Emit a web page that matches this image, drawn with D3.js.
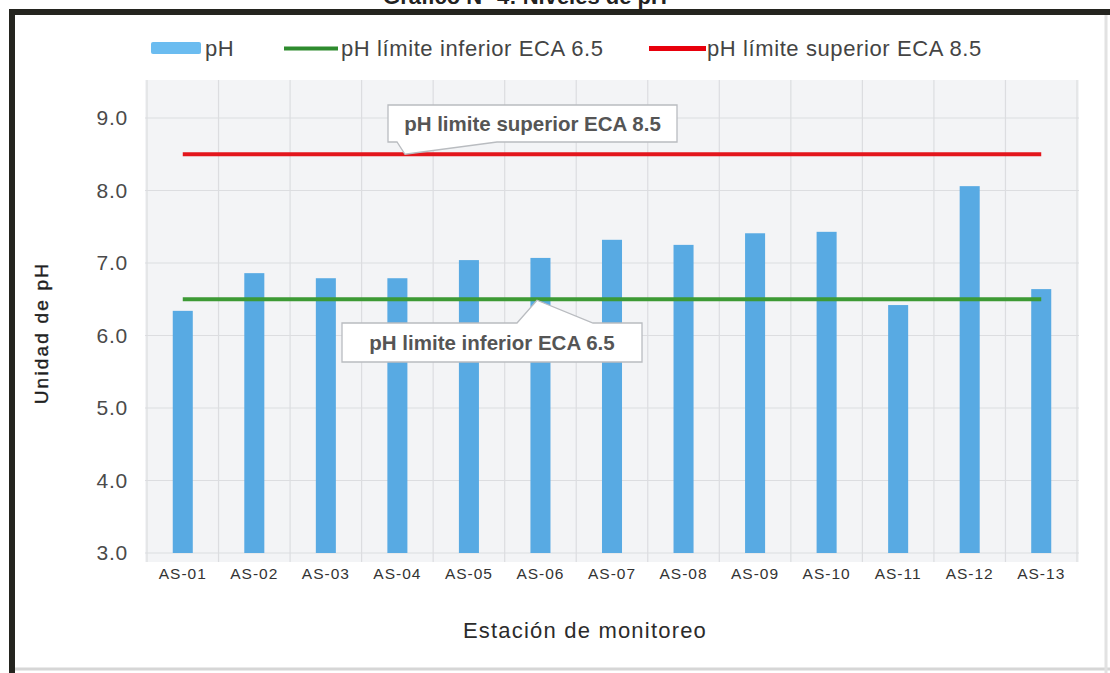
<!DOCTYPE html>
<html>
<head>
  <meta charset="utf-8">
  <title>Niveles de pH</title>
  <style>
    body { margin: 0; background: #fff; }
    svg { display: block; font-family: "Liberation Sans", Arial, sans-serif; }
  </style>
</head>
<body>
  <script src="https://d3js.org/d3.v7.min.js"></script>
  <script type="text/javascript">

var stations = ["AS-01", "AS-02", "AS-03", "AS-04", "AS-05", "AS-06", "AS-07",
                "AS-08", "AS-09", "AS-10", "AS-11", "AS-12", "AS-13"];
var phValues = [6.34, 6.86, 6.79, 6.79, 7.04, 7.07, 7.32, 7.25, 7.41, 7.43, 6.42, 8.06, 6.64];
var limitLow  = 6.5;
var limitHigh = 8.5;
var yTicks = [3, 4, 5, 6, 7, 8, 9];
var legendLabels = ["pH", "pH límite inferior ECA 6.5", "pH límite superior ECA 8.5"];

var W = 1110, H = 673;
var plot = {left: 147, right: 1077, top: 80, bottom: 562};

var svg = d3.select("body")
    .append("svg")
    .attr("width", W)
    .attr("height", H);

// frame of the original image (title is cut at the top edge, as in the scan)
svg.append("text")
    .attr("x", 525).attr("y", 4)
    .attr("text-anchor", "middle")
    .style("font-size", "22px").style("font-weight", "bold").style("fill", "#222")
    .text("Gráfico N° 4: Niveles de pH");
svg.append("path")
    .attr("d", "M12," + H + " V12 H" + W)
    .attr("fill", "none").attr("stroke", "#24241f").attr("stroke-width", 6);
svg.append("line")
    .attr("x1", 15).attr("x2", W).attr("y1", H - 4).attr("y2", H - 4)
    .attr("stroke", "#d6d6d6").attr("stroke-width", 3);
svg.append("line")
    .attr("x1", W - 4).attr("x2", W - 4).attr("y1", 15).attr("y2", H)
    .attr("stroke", "#e2e2e2").attr("stroke-width", 3);

var xScale = d3.scaleBand()
    .domain(stations)
    .range([plot.left, plot.right])
    .paddingInner(0.72)
    .paddingOuter(0.36);

var yScale = d3.scaleLinear()
    .domain([3, 9])
    .range([553, 118]);

// plot area
svg.append("rect")
    .attr("x", plot.left - 2).attr("y", plot.top)
    .attr("width", plot.right - plot.left + 4).attr("height", plot.bottom - plot.top)
    .attr("fill", "#f3f4f6");

var grid = svg.append("g").attr("stroke", "#dcdde0").attr("stroke-width", 1.2);
grid.selectAll(".hg")
    .data(yTicks)
    .enter().append("line")
    .attr("x1", plot.left - 2).attr("x2", plot.right + 2)
    .attr("y1", function(d){ return yScale(d); })
    .attr("y2", function(d){ return yScale(d); });
var edges = stations.map(function(s){ return xScale(s) - xScale.step() * xScale.paddingInner() / 2; })
    .concat([plot.right]);
grid.selectAll(".vg")
    .data(edges)
    .enter().append("line")
    .attr("x1", function(d){ return d; }).attr("x2", function(d){ return d; })
    .attr("y1", plot.top).attr("y2", plot.bottom);

// bars
svg.append("g").selectAll("rect")
    .data(phValues)
    .enter().append("rect")
    .attr("x", function(d, i){ return xScale(stations[i]); })
    .attr("y", function(d){ return yScale(d); })
    .attr("width", xScale.bandwidth())
    .attr("height", function(d){ return yScale(3) - yScale(d); })
    .attr("fill", "#58aae3");

// limit lines
var x0 = xScale(stations[0]) + xScale.bandwidth() / 2;
var x1 = xScale(stations[stations.length - 1]) + xScale.bandwidth() / 2;
svg.append("line")
    .attr("x1", x0).attr("x2", x1)
    .attr("y1", yScale(limitLow)).attr("y2", yScale(limitLow))
    .attr("stroke", "#3d9a35").attr("stroke-width", 4);
svg.append("line")
    .attr("x1", x0).attr("x2", x1)
    .attr("y1", yScale(limitHigh)).attr("y2", yScale(limitHigh))
    .attr("stroke", "#e3161c").attr("stroke-width", 4);

// y axis (labels only)
var yAxis = svg.append("g")
    .attr("transform", "translate(128,0)")
    .call(d3.axisLeft(yScale).tickValues(yTicks).tickFormat(d3.format(".1f")).tickSize(0).tickPadding(0));
yAxis.select(".domain").remove();
yAxis.selectAll("text")
    .style("font-size", "21px").style("fill", "#4a4a4a")
    .style("font-family", "'Liberation Sans', Arial, sans-serif")
    .style("letter-spacing", "0.8px");

// x axis (labels only)
var xAxis = svg.append("g")
    .attr("transform", "translate(0,565)")
    .call(d3.axisBottom(xScale).tickSize(0).tickPadding(0));
xAxis.select(".domain").remove();
xAxis.selectAll("text")
    .attr("dy", "0.9em")
    .style("font-size", "15.5px").style("fill", "#333")
    .style("font-family", "'Liberation Sans', Arial, sans-serif")
    .style("letter-spacing", "1px");

// axis titles
svg.append("text")
    .attr("x", 585).attr("y", 638)
    .attr("text-anchor", "middle")
    .style("font-size", "22px").style("fill", "#2b2b2b").style("letter-spacing", "1.2px")
    .text("Estación de monitoreo");
svg.append("text")
    .attr("transform", "translate(48,333) rotate(-90)")
    .attr("text-anchor", "middle")
    .style("font-size", "19px").style("fill", "#1f1f1f").style("letter-spacing", "2.2px")
    .style("stroke", "#1f1f1f").style("stroke-width", 0.4)
    .text("Unidad de pH");

// legend
var lg = svg.append("g");
lg.append("rect")
    .attr("x", 151).attr("y", 42).attr("width", 50).attr("height", 12).attr("rx", 2)
    .attr("fill", "#6bbcf0");
lg.append("text").attr("x", 205).attr("y", 56).text(legendLabels[0]);
lg.append("line")
    .attr("x1", 284).attr("x2", 338).attr("y1", 48.5).attr("y2", 48.5)
    .attr("stroke", "#2e8b2e").attr("stroke-width", 4);
lg.append("text").attr("x", 341).attr("y", 56).text(legendLabels[1]);
lg.append("line")
    .attr("x1", 649).attr("x2", 706).attr("y1", 48.5).attr("y2", 48.5)
    .attr("stroke", "#e8000c").attr("stroke-width", 5);
lg.append("text").attr("x", 707).attr("y", 56).text(legendLabels[2]);
lg.selectAll("text")
    .style("font-size", "22px").style("fill", "#444").style("letter-spacing", "0.6px");

// callouts
function callout(box, wedge, apex, label) {
    var p = d3.path();
    if (wedge.side === "bottom") {
        p.moveTo(box.x, box.y);
        p.lineTo(box.x + box.w, box.y);
        p.lineTo(box.x + box.w, box.y + box.h);
        p.lineTo(wedge.b, box.y + box.h);
        p.lineTo(apex[0], apex[1]);
        p.lineTo(wedge.a, box.y + box.h);
        p.lineTo(box.x, box.y + box.h);
    } else {
        p.moveTo(box.x, box.y);
        p.lineTo(wedge.a, box.y);
        p.lineTo(apex[0], apex[1]);
        p.lineTo(wedge.b, box.y);
        p.lineTo(box.x + box.w, box.y);
        p.lineTo(box.x + box.w, box.y + box.h);
        p.lineTo(box.x, box.y + box.h);
    }
    p.closePath();
    svg.append("path")
        .attr("d", p.toString())
        .attr("fill", "#fff").attr("stroke", "#b9bcc0").attr("stroke-width", 1.3);
    svg.append("text")
        .attr("x", box.x + box.w / 2).attr("y", box.y + box.h / 2 + 7.5)
        .attr("text-anchor", "middle")
        .style("font-size", "20.5px").style("font-weight", "bold").style("fill", "#555")
        .text(label);
}

callout({x: 388, y: 105, w: 289, h: 37}, {side: "bottom", a: 397, b: 497},
        [405, yScale(limitHigh)], "pH limite superior ECA 8.5");
callout({x: 342, y: 323, w: 300, h: 39}, {side: "top", a: 517, b: 593},
        [537, yScale(limitLow) + 1], "pH limite inferior ECA 6.5");

  </script>
</body>
</html>
